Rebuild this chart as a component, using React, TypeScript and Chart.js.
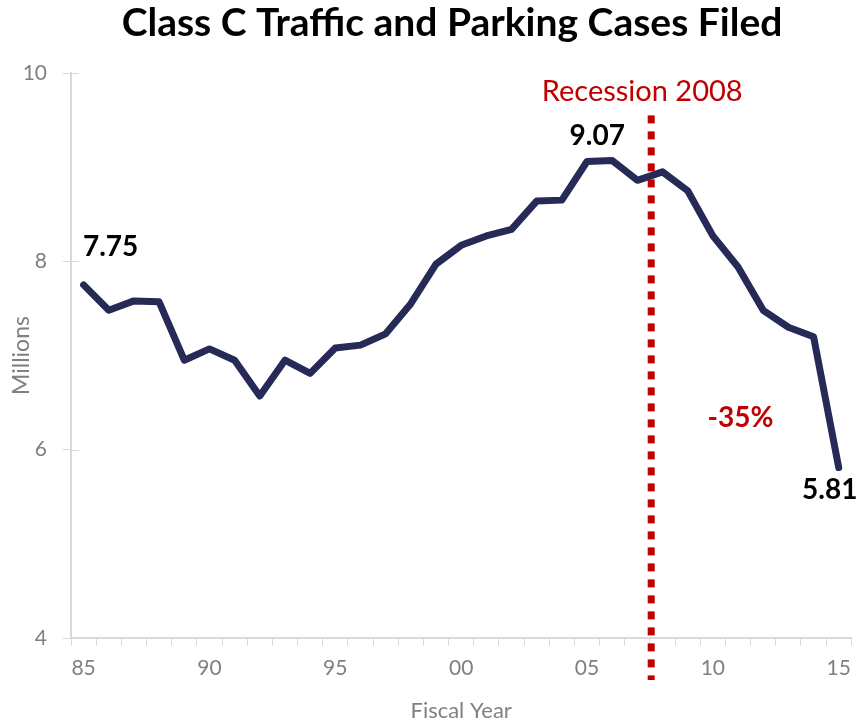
import React, { useEffect, useRef } from "react";
import { Chart, registerables } from "chart.js";

Chart.register(...registerables);

const years = [
  "85", "86", "87", "88", "89", "90", "91", "92", "93", "94",
  "95", "96", "97", "98", "99", "00", "01", "02", "03", "04",
  "05", "06", "07", "08", "09", "10", "11", "12", "13", "14", "15",
];
const shownYearLabels = ["85", "90", "95", "00", "05", "10", "15"];
const casesMillions = [
  7.75, 7.48, 7.58, 7.57, 6.95, 7.07, 6.95, 6.57, 6.95, 6.81,
  7.08, 7.11, 7.23, 7.55, 7.97, 8.17, 8.27, 8.34, 8.64, 8.65,
  9.06, 9.07, 8.86, 8.95, 8.75, 8.27, 7.94, 7.48, 7.30, 7.20, 5.81,
];
const yTicks = [4, 6, 8, 10];
const labelledPoints = [
  { index: 0, text: "7.75" },
  { index: 21, text: "9.07" },
  { index: 30, text: "5.81" },
];
const recessionIndex = 22.55;
const recessionLabel = "Recession 2008";
const changeLabel = "-35%";
const changeIndex = 26.1;
const changeValue = 6.34;

const TITLE = "Class C Traffic and Parking Cases Filed";
const FONT = "Lato, 'Open Sans', sans-serif";

const overlayPlugin = {
  id: "overlay",
  afterDatasetsDraw(chart: any) {
    const { ctx, scales, chartArea } = chart;
    const x = scales.x;
    const y = scales.y;
    ctx.save();
    // recession line
    const rx = x.getPixelForValue(recessionIndex);
    ctx.strokeStyle = "#C00000";
    ctx.lineWidth = 7;
    ctx.setLineDash([8, 8]);
    ctx.beginPath();
    ctx.moveTo(rx, y.getPixelForValue(9.55));
    ctx.lineTo(rx, chartArea.bottom + 42);
    ctx.stroke();
    ctx.setLineDash([]);

    ctx.textAlign = "center";
    ctx.textBaseline = "middle";
    ctx.fillStyle = "#C00000";
    ctx.font = `29px ${FONT}`;
    ctx.fillText(recessionLabel, rx - 9, y.getPixelForValue(9.8));
    ctx.font = `bold 28px ${FONT}`;
    ctx.fillText(changeLabel, x.getPixelForValue(changeIndex), y.getPixelForValue(changeValue));

    // data labels
    ctx.fillStyle = "#000000";
    ctx.font = `bold 28px ${FONT}`;
    const offsets: Record<number, [number, number]> = {
      0: [27, -38],
      21: [-15, -25],
      30: [-9, 22],
    };
    labelledPoints.forEach((p) => {
      const px = x.getPixelForValue(p.index);
      const py = y.getPixelForValue(casesMillions[p.index]);
      const [dx, dy] = offsets[p.index];
      ctx.fillText(p.text, px + dx, py + dy);
    });

    // title
    ctx.font = `bold 39px ${FONT}`;
    ctx.fillText(TITLE, 452, 23);

    // axis titles
    ctx.fillStyle = "#808080";
    ctx.font = `22px ${FONT}`;
    ctx.fillText("Fiscal Year", (chartArea.left + chartArea.right) / 2, 711);
    ctx.translate(22, (chartArea.top + chartArea.bottom) / 2);
    ctx.rotate(-Math.PI / 2);
    ctx.font = `23px ${FONT}`;
    ctx.fillText("Millions", 0, 0);
    ctx.restore();

    // inner halves of y cross ticks
    ctx.save();
    ctx.strokeStyle = "#D9D9D9";
    ctx.lineWidth = 1;
    yTicks.forEach((t) => {
      const py = Math.round(y.getPixelForValue(t)) + 0.5;
      ctx.beginPath();
      ctx.moveTo(chartArea.left, py);
      ctx.lineTo(chartArea.left + 8, py);
      ctx.stroke();
    });
    ctx.restore();
  },
};

export default function App() {
  const ref = useRef<HTMLCanvasElement | null>(null);
  useEffect(() => {
    document.body.style.margin = "0";
    const canvas = ref.current;
    if (!canvas) return;
    const chart = new Chart(canvas, {
      type: "line",
      data: {
        labels: years,
        datasets: [
          {
            data: casesMillions,
            borderColor: "#262A56",
            borderWidth: 7,
            pointRadius: 0,
            tension: 0,
            borderCapStyle: "round",
            borderJoinStyle: "round",
          },
        ],
      },
      options: {
        responsive: false,
        animation: false,
        layout: { padding: { top: 73, right: 6, left: 0, bottom: 0 } },
        plugins: {
          legend: { display: false },
          tooltip: { enabled: false },
          title: { display: false },
        },
        scales: {
          x: {
            type: "category",
            offset: true,
            grid: {
              display: true,
              offset: true,
              drawOnChartArea: false,
              drawTicks: true,
              tickLength: 8,
              color: "#D9D9D9",
            },
            border: { display: true, color: "#D9D9D9", width: 2 },
            ticks: {
              autoSkip: false,
              maxRotation: 0,
              padding: 10,
              color: "#808080",
              font: { family: FONT, size: 21 },
              callback: (_v: any, i: number) =>
                shownYearLabels.includes(years[i]) ? years[i] : "",
            },
            afterFit: (s: any) => {
              s.height = 88;
            },
          },
          y: {
            min: 4,
            max: 10,
            afterBuildTicks: (s: any) => {
              s.ticks = yTicks.map((v) => ({ value: v }));
            },
            grid: {
              display: true,
              drawOnChartArea: false,
              drawTicks: true,
              tickLength: 8,
              color: "#D9D9D9",
            },
            border: { display: true, color: "#D9D9D9", width: 2 },
            ticks: {
              padding: 16,
              color: "#808080",
              font: { family: FONT, size: 21 },
            },
            afterFit: (s: any) => {
              s.width = 71;
            },
          },
        },
      },
      plugins: [overlayPlugin],
    });
    return () => chart.destroy();
  }, []);
  return <canvas ref={ref} width={861} height={726} style={{ display: "block" }} />;
}
